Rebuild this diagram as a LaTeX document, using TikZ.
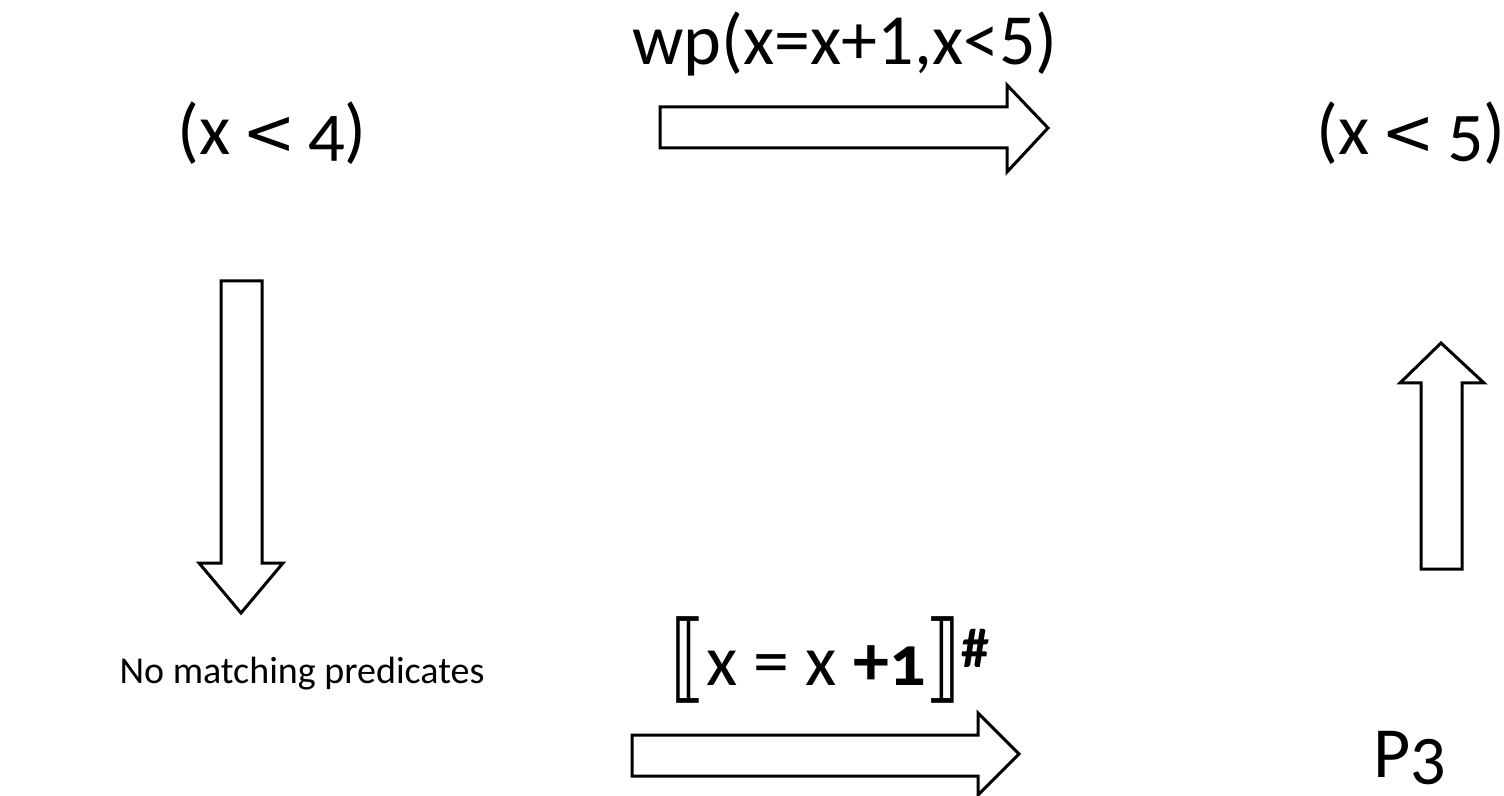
\documentclass[tikz,border=0pt]{standalone}
\usepackage{fontspec}
\setmainfont{Carlito}[Numbers=OldStyle]
\newfontfamily\liningfont{Carlito}[Numbers=Lining]
\newfontfamily\symbfont{DejaVu Sans}
\newcommand{\lessop}{\,{\symbfont\fontsize{32}{32}\selectfont<}\,}
\newcommand{\lbrk}{\raisebox{-0.07em}{\scalebox{1}[1.35]{\symbfont ⟦}}}
\newcommand{\rbrk}{\raisebox{-0.07em}{\scalebox{1}[1.35]{\symbfont ⟧}}}
\begin{document}
\begin{tikzpicture}[x=0.5pt,y=-0.5pt,
  blockarrow/.style={draw=black,line width=1.5pt,fill=white,line join=miter},
  lbl/.style={inner sep=0pt,anchor=center},
  big/.style={font=\fontsize{36}{40}\selectfont}]
\useasboundingbox (0,0) rectangle (1504,796);
% texts
\node[lbl,big] (p1) at (272,133) {(x\lessop 4)};
\node[lbl,big] (p2) at (1411,133) {(x\lessop 5)};
\node[lbl,font=\fontsize{36}{40}\selectfont\liningfont] (wp) at (845,44) {wp(x=x+1,x<5)};
\node[lbl,big,anchor=base] (tr) at (830,685) {\lbrk x = x \textbf{+1}\rbrk\raisebox{9pt}{\fontsize{28}{28}\selectfont\bfseries\#}};
\node[lbl,font=\fontsize{19}{22}\selectfont] (nm) at (302,674) {No matching predicates};
\node[lbl,big] (p3) at (1410,758) {P3};
% top arrow
\draw[blockarrow] (660,107) -- (1007,107) -- (1007,85) -- (1048,128) -- (1007,172) -- (1007,148) -- (660,148) -- cycle;
% bottom arrow
\draw[blockarrow] (632,735) -- (978,735) -- (978,713) -- (1019,754) -- (978,795) -- (978,776) -- (632,776) -- cycle;
% down arrow
\draw[blockarrow] (221,281) -- (262,281) -- (262,563) -- (283,563) -- (241,613) -- (199,563) -- (221,563) -- cycle;
% up arrow
\draw[blockarrow] (1421,569) -- (1462,569) -- (1462,383) -- (1484,383) -- (1441,343) -- (1400,383) -- (1421,383) -- cycle;
\end{tikzpicture}
\end{document}
